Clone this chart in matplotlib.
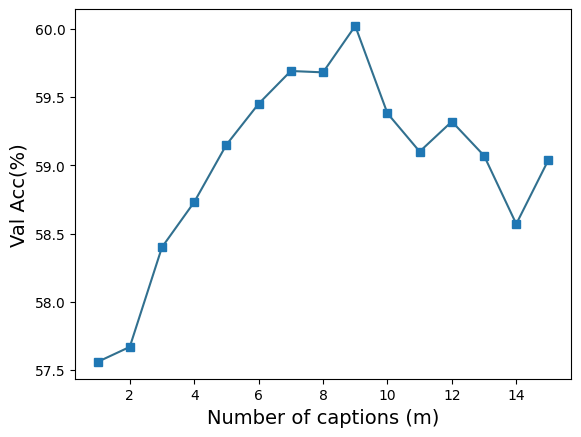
import matplotlib
matplotlib.use("Agg")
import matplotlib.pyplot as plt

captions = [1, 2, 3, 4, 5, 6, 7, 8, 9, 10, 11, 12, 13, 14, 15]
val_acc = [57.56, 57.67, 58.40, 58.73, 59.15, 59.45, 59.69, 59.68, 60.02,
           59.38, 59.10, 59.32, 59.07, 58.57, 59.04]

fig, ax = plt.subplots(figsize=(6.4, 4.8), dpi=100)

# line a bit darker than the markers, as in the reference
ax.plot(captions, val_acc, color='#31708f', lw=1.5, marker='s', markersize=6,
        markerfacecolor='tab:blue', markeredgecolor='tab:blue')

ax.set_xlabel('Number of captions (m)', fontsize=14)
ax.set_ylabel('Val Acc(%)', fontsize=14)
ax.set_xticks([2, 4, 6, 8, 10, 12, 14])
ax.set_yticks([57.5, 58.0, 58.5, 59.0, 59.5, 60.0])

fig.savefig('out.png', bbox_inches='tight', pad_inches=0.1)
